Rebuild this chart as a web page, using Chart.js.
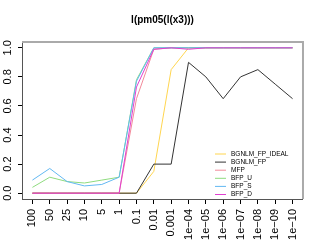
<!DOCTYPE html>
<html>
<head>
<meta charset="utf-8">
<script src="https://cdn.jsdelivr.net/npm/chart.js@4"></script>
<style>
  html, body { margin: 0; padding: 0; background: #fff; }
  #wrap { width: 311px; height: 250px; }
</style>
</head>
<body>
<div id="wrap"><canvas id="myChart" width="311" height="250"></canvas></div>
<script>
const titulo = 'l(pm05(l(x3)))';
const categorias = ['100', '50', '25', '10', '5', '1', '0.1', '0.01', '0.001',
    '1e\u221204', '1e\u221205', '1e\u221206', '1e\u221207', '1e\u221208', '1e\u221209', '1e\u221210'];
const yTicks = [0, 0.2, 0.4, 0.6, 0.8, 1.0];
const yLabels = ['0.0', '0.2', '0.4', '0.6', '0.8', '1.0'];

const bgnlmIdeal = [0, 0, 0, 0, 0, 0, 0, 0.15, 0.85, 1, 1, 1, 1, 1, 1, 1];
const bgnlmFp    = [0, 0, 0, 0, 0, 0, 0, 0.2, 0.2, 0.9, 0.8, 0.65, 0.8, 0.85, 0.75, 0.65];
const mfp        = [0, 0, 0, 0, 0, 0, 0.65, 0.99, 1, 1, 1, 1, 1, 1, 1, 1];
const bfpU       = [0.04, 0.11, 0.08, 0.07, 0.09, 0.11, 0.78, 1, 1, 1, 1, 1, 1, 1, 1, 1];
const bfpS       = [0.09, 0.17, 0.08, 0.05, 0.06, 0.11, 0.77, 1, 1, 1, 1, 1, 1, 1, 1, 1];
const bfpD       = [0, 0, 0, 0, 0, 0, 0.73, 0.99, 1, 0.99, 1, 1, 1, 1, 1, 1];

const series = [
    { label: 'BGNLM_FP_IDEAL', data: bgnlmIdeal, color: '#FFD54F' },
    { label: 'BGNLM_FP', data: bgnlmFp, color: '#333333' },
    { label: 'MFP', data: mfp, color: '#F28A9A' },
    { label: 'BFP_U', data: bfpU, color: '#8EDB7E' },
    { label: 'BFP_S', data: bfpS, color: '#62B8F2' },
    { label: 'BFP_D', data: bfpD, color: '#E040D0' }
];

const fuente = "'Liberation Sans', Arial, sans-serif";

// titulo, etiquetas del eje y, marco gris y leyenda
const extras = {
    id: 'extras',
    beforeDraw(chart) {
        const c = chart.ctx;
        const a = chart.chartArea;
        c.save();
        c.fillStyle = '#000';
        c.font = 'bold 10px ' + fuente;
        c.textAlign = 'center';
        c.textBaseline = 'middle';
        c.fillText(titulo, (a.left + a.right) / 2, 20);

        const y = chart.scales.y;
        c.font = '11px ' + fuente;
        yTicks.forEach((v, i) => {
            c.save();
            c.translate(8, y.getPixelForValue(v));
            c.rotate(-Math.PI / 2);
            c.fillText(yLabels[i], 0, 0);
            c.restore();
        });
        c.restore();
    },
    afterDraw(chart) {
        const c = chart.ctx;
        const a = chart.chartArea;
        c.save();
        c.strokeStyle = '#aaaaaa';
        c.lineWidth = 2;
        c.beginPath();
        c.moveTo(a.left, a.top);
        c.lineTo(a.right, a.top);
        c.lineTo(a.right, a.bottom);
        c.stroke();

        // leyenda
        const lx = 213, ly = 149;
        c.fillStyle = '#fff';
        c.fillRect(lx, ly, 84, 49);
        c.font = '6.5px ' + fuente;
        c.textBaseline = 'middle';
        c.textAlign = 'left';
        series.forEach((s, i) => {
            const yy = ly + 5 + i * 8.1;
            c.strokeStyle = s.color;
            c.lineWidth = 1;
            c.beginPath();
            c.moveTo(lx + 2, yy);
            c.lineTo(lx + 13, yy);
            c.stroke();
            c.fillStyle = '#000';
            c.fillText(s.label, lx + 18, yy);
        });
        c.restore();
    }
};

const ctx = document.getElementById('myChart').getContext('2d');
new Chart(ctx, {
    type: 'line',
    data: {
        datasets: series.map((s, i) => ({
            label: s.label,
            data: s.data.map((v, k) => ({ x: k, y: v })),
            borderColor: s.color,
            backgroundColor: s.color,
            borderWidth: 1,
            pointRadius: 0,
            tension: 0,
            order: series.length - i
        }))
    },
    options: {
        responsive: false,
        animation: false,
        layout: { padding: { top: 42, right: 6, left: 0, bottom: 0 } },
        plugins: {
            legend: { display: false },
            tooltip: { enabled: false }
        },
        scales: {
            x: {
                type: 'linear',
                min: -0.6,
                max: 15.6,
                afterBuildTicks: (scale) => {
                    scale.ticks = categorias.map((_, k) => ({ value: k }));
                },
                afterFit: (scale) => { scale.height = 51; },
                grid: { drawOnChartArea: false, tickLength: 5, color: '#000' },
                border: { color: '#555', width: 1 },
                ticks: {
                    autoSkip: false,
                    minRotation: 90,
                    maxRotation: 90,
                    padding: 5,
                    color: '#000',
                    font: { family: fuente, size: 11 },
                    callback: (v) => categorias[v]
                }
            },
            y: {
                min: -0.04,
                max: 1.04,
                afterBuildTicks: (scale) => {
                    scale.ticks = yTicks.map((v) => ({ value: v }));
                },
                afterFit: (scale) => { scale.width = 22; },
                grid: { drawOnChartArea: false, tickLength: 4, color: '#000' },
                border: { color: '#555', width: 1 },
                ticks: {
                    color: 'rgba(0,0,0,0)',
                    font: { family: fuente, size: 11 },
                    callback: (v) => yLabels[yTicks.indexOf(v)]
                }
            }
        }
    },
    plugins: [extras]
});
</script>
</body>
</html>
